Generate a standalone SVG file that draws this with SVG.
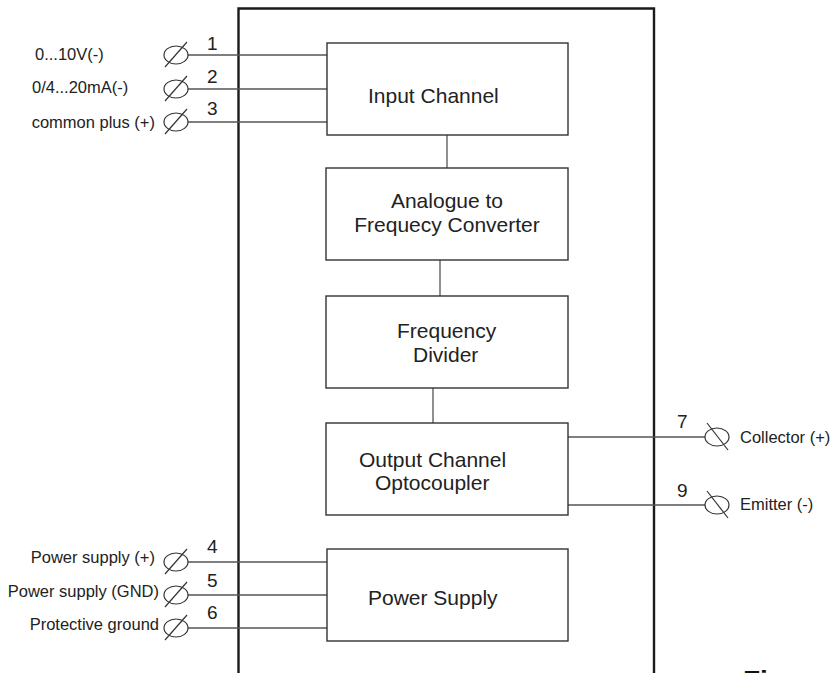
<svg xmlns="http://www.w3.org/2000/svg" width="837" height="673" viewBox="0 0 837 673">
  <defs>
    <style>
      .frame { fill: none; stroke: #1a1a1a; stroke-width: 2.4; }
      .block { fill: #ffffff; stroke: #333333; stroke-width: 1.4; }
      .wire { fill: none; stroke: #555555; stroke-width: 1.3; }
      .term { fill: none; stroke: #333333; stroke-width: 1.2; }
      .btxt { font-family: "Liberation Sans", Arial, sans-serif; font-size: 21px; fill: #222222; }
      .lbl { font-family: "Liberation Sans", Arial, sans-serif; font-size: 16.5px; fill: #222222; }
      .num { font-family: "Liberation Sans", Arial, sans-serif; font-size: 19px; fill: #222222; }
      .fig { font-family: "Liberation Sans", Arial, sans-serif; font-size: 28px; font-weight: bold; fill: #111111; }
    </style>
    <!-- screw terminal: ellipse with a slash, left-side variant -->
    <g id="termL">
      <ellipse class="term" cx="0" cy="0" rx="12" ry="9"/>
      <line class="term" x1="-11" y1="12" x2="11" y2="-13"/>
    </g>
    <!-- right-side variant with the slash mirrored -->
    <g id="termR">
      <ellipse class="term" cx="0" cy="0" rx="12" ry="9"/>
      <line class="term" x1="-10" y1="-14" x2="11" y2="13"/>
    </g>
  </defs>

  <rect width="837" height="673" fill="#ffffff"/>

  <!-- housing outline (open at the bottom) -->
  <path class="frame" d="M238.5,673 V8.5 H654 V673"/>

  <!-- connectors -->
  <g id="connectors">
    <!-- input terminals 1..3 -->
    <line class="wire" x1="188" y1="55" x2="327" y2="55"/>
    <line class="wire" x1="188" y1="89" x2="327" y2="89"/>
    <line class="wire" x1="188" y1="122" x2="327" y2="122"/>
    <!-- internal chain -->
    <line class="wire" x1="447" y1="135" x2="447" y2="168"/>
    <line class="wire" x1="440" y1="260" x2="440" y2="296"/>
    <line class="wire" x1="433" y1="388" x2="433" y2="423"/>
    <!-- output terminals 7, 9 -->
    <line class="wire" x1="568" y1="437" x2="705" y2="437"/>
    <line class="wire" x1="568" y1="505" x2="705" y2="505"/>
    <!-- supply terminals 4..6 -->
    <line class="wire" x1="188" y1="562" x2="327" y2="562"/>
    <line class="wire" x1="188" y1="595" x2="327" y2="595"/>
    <line class="wire" x1="188" y1="628" x2="327" y2="628"/>
  </g>

  <g id="input-channel">
    <rect class="block" x="327" y="43" width="241" height="92"/>
    <text class="btxt" x="368" y="103">Input Channel</text>
  </g>

  <g id="a-f-converter">
    <rect class="block" x="326" y="168" width="242" height="92"/>
    <text class="btxt" x="447" y="208" text-anchor="middle">Analogue to</text>
    <text class="btxt" x="447" y="232" text-anchor="middle">Frequecy Converter</text>
  </g>

  <g id="frequency-divider">
    <rect class="block" x="326" y="296" width="242" height="92"/>
    <text class="btxt" x="397" y="338">Frequency</text>
    <text class="btxt" x="413" y="362">Divider</text>
  </g>

  <g id="output-channel">
    <rect class="block" x="326" y="423" width="242" height="92"/>
    <text class="btxt" x="359" y="467">Output Channel</text>
    <text class="btxt" x="375" y="490">Optocoupler</text>
  </g>

  <g id="power-supply">
    <rect class="block" x="327" y="549" width="241" height="92"/>
    <text class="btxt" x="368" y="605">Power Supply</text>
  </g>

  <g id="terminal-1">
    <use href="#termL" x="176" y="55"/>
    <text class="num" x="207" y="50">1</text>
    <text class="lbl" x="35" y="60">0...10V(-)</text>
  </g>
  <g id="terminal-2">
    <use href="#termL" x="176" y="89"/>
    <text class="num" x="207" y="83">2</text>
    <text class="lbl" x="32" y="93">0/4...20mA(-)</text>
  </g>
  <g id="terminal-3">
    <use href="#termL" x="176" y="122"/>
    <text class="num" x="207" y="115">3</text>
    <text class="lbl" x="155" y="128" text-anchor="end">common plus (+)</text>
  </g>

  <g id="terminal-7">
    <use href="#termR" x="717" y="437"/>
    <text class="num" x="677" y="428">7</text>
    <text class="lbl" x="740" y="443">Collector (+)</text>
  </g>
  <g id="terminal-9">
    <use href="#termR" x="717" y="505"/>
    <text class="num" x="677" y="497">9</text>
    <text class="lbl" x="740" y="510">Emitter (-)</text>
  </g>

  <g id="terminal-4">
    <use href="#termL" x="176" y="562"/>
    <text class="num" x="207" y="553">4</text>
    <text class="lbl" x="155" y="563" text-anchor="end">Power supply (+)</text>
  </g>
  <g id="terminal-5">
    <use href="#termL" x="176" y="595"/>
    <text class="num" x="207" y="587">5</text>
    <text class="lbl" x="159" y="597" text-anchor="end">Power supply (GND)</text>
  </g>
  <g id="terminal-6">
    <use href="#termL" x="176" y="628"/>
    <text class="num" x="207" y="619">6</text>
    <text class="lbl" x="159" y="630" text-anchor="end">Protective ground</text>
  </g>

  <!-- caption, running off the lower edge -->
  <text class="fig" x="743" y="690">Figure</text>
</svg>
